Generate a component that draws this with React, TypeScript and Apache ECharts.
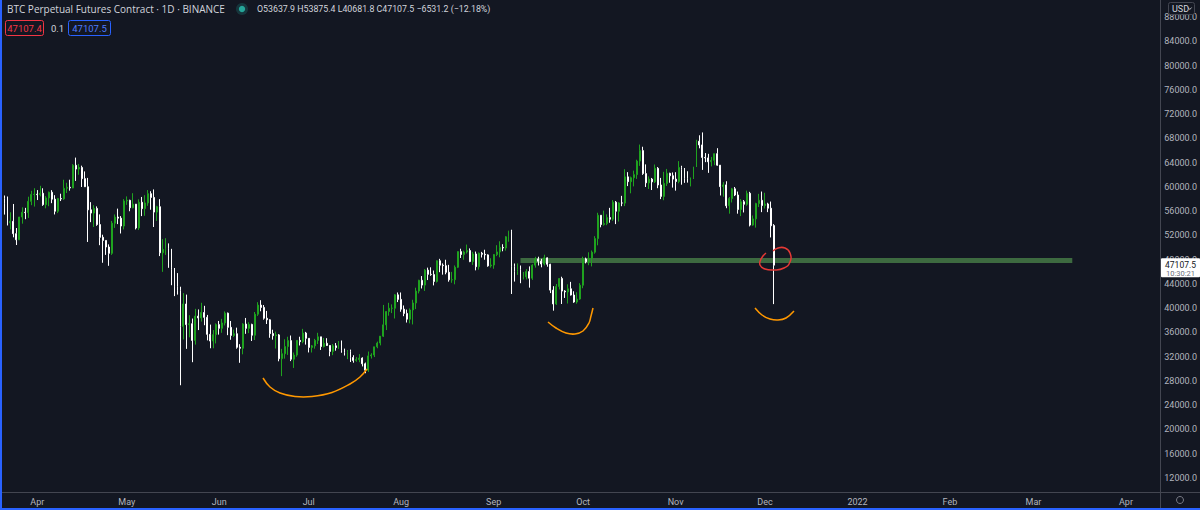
import React, { useEffect, useRef } from 'react';
import * as echarts from 'echarts';

// ---------- data ----------
const START_DATE = '2021-03-20';
const TOTAL_DAYS = 388; // category slots on the time axis (through Apr 2022)
const MONTH_NAMES = ['Jan', 'Feb', 'Mar', 'Apr', 'May', 'Jun', 'Jul', 'Aug', 'Sep', 'Oct', 'Nov', 'Dec'];

// rows: [open, high, low, close]
const mar2021 = [
  [57900, 59900, 57800, 58100], [58100, 58600, 55450, 57350], [57350, 58430, 53650, 54080], [54080, 55830, 53000, 54340],
  [54340, 57200, 51700, 52300], [52300, 53230, 50430, 51300], [51300, 55070, 51230, 55050], [55050, 56640, 53950, 55820],
  [55820, 56560, 54690, 55780], [55780, 58400, 54900, 57630], [57630, 59370, 57000, 58770], [58770, 59800, 56770, 58800],
];
const apr2021 = [
  [58800, 59490, 57850, 58740], [58740, 60200, 58450, 58970], [58970, 59790, 56890, 57090], [57090, 58490, 56480, 58200],
  [58200, 59240, 56830, 59130], [59130, 59480, 57330, 57990], [57990, 58650, 55470, 56000], [56000, 58200, 55700, 58090],
  [58090, 58890, 57680, 58040], [58040, 61200, 57880, 59780], [59780, 60700, 59000, 59960], [59960, 61200, 59400, 59840],
  [59840, 63770, 59800, 63580], [63580, 64850, 61000, 62960], [62960, 63800, 62020, 63220], [63220, 63520, 60000, 61380],
  [61380, 62570, 60000, 60040], [60040, 61500, 50930, 56230], [56230, 57500, 54200, 55700], [55700, 57000, 53400, 56470],
  [56470, 56800, 53600, 53800], [53800, 55480, 50400, 51700], [51700, 52130, 47500, 51190], [51190, 51200, 48800, 50100],
  [50100, 50540, 47000, 49060], [49060, 54400, 48800, 54030], [54030, 55470, 53250, 55040], [55040, 56430, 53880, 54860],
  [54860, 55200, 52330, 53560], [53560, 58000, 53000, 57700],
];
const may2021 = [
  [57700, 58450, 57050, 57800], [57800, 57900, 56000, 56580], [56580, 58980, 56480, 57170], [57170, 57200, 53000, 53240],
  [53240, 57970, 52900, 57480], [57480, 58360, 55200, 56430], [56430, 58650, 55250, 57380], [57380, 59500, 56900, 58900],
  [58900, 59300, 56250, 58280], [58280, 59600, 53400, 55860], [55860, 56900, 54400, 56750], [56750, 58000, 48600, 49150],
  [49150, 51400, 46000, 49700], [49700, 51550, 48800, 49880], [49880, 50700, 46650, 46760], [46760, 49800, 43800, 46450],
  [46450, 46640, 42000, 43540], [43540, 45800, 42250, 42900], [42900, 43550, 27300, 37000], [37000, 42500, 34850, 40700],
  [40700, 42250, 33300, 37300], [37300, 38850, 35200, 37450], [37450, 38300, 31100, 34700], [34700, 39900, 34000, 38700],
  [38700, 39800, 36400, 38400], [38400, 40900, 37800, 39300], [39300, 40400, 37200, 38500], [38500, 38900, 34700, 35700],
  [35700, 37300, 33400, 34600], [34600, 36400, 33400, 35650], [35650, 37500, 34200, 37300],
];
const jun2021 = [
  [37300, 37900, 35650, 36690], [36690, 38250, 35950, 37570], [37570, 39480, 37170, 39190], [39190, 39290, 35560, 36850],
  [36850, 37900, 34800, 35520], [35520, 36480, 35250, 35800], [35800, 36800, 33330, 33560], [33560, 34070, 31000, 33400],
  [33400, 37530, 32400, 37390], [37390, 38400, 35780, 36680], [36680, 37700, 35900, 37330], [37330, 37450, 34600, 35550],
  [35550, 39380, 34760, 39020], [39020, 41000, 38730, 40520], [40520, 41330, 39500, 40140], [40140, 40530, 38120, 38350],
  [38350, 39560, 37400, 38090], [38090, 38200, 35130, 35820], [35820, 36460, 34820, 35480], [35480, 36140, 33350, 35600],
  [35600, 35750, 31250, 31680], [31680, 33300, 28800, 32500], [32500, 34880, 31680, 33680], [33680, 35300, 32300, 34660],
  [34660, 35500, 31280, 31590], [31590, 32700, 30150, 32280], [32280, 34750, 32000, 34700], [34700, 35300, 33860, 34490],
  [34490, 36600, 34230, 35910], [35910, 36100, 34000, 35040],
];
const jul2021 = [
  [35040, 35040, 32710, 33540], [33540, 33940, 32700, 33800], [33800, 34950, 33330, 34700], [34700, 35950, 34100, 35290],
  [35290, 35290, 33120, 33690], [33690, 35100, 33530, 34220], [34220, 35060, 33770, 33860], [33860, 33900, 32080, 32880],
  [32880, 34100, 32260, 33800], [33800, 34260, 33000, 33500], [33500, 34590, 33300, 34260], [34260, 34680, 32660, 33090],
  [33090, 33340, 32200, 32730], [32730, 33100, 31600, 32820], [32820, 33180, 31130, 31880], [31880, 32250, 31020, 31390],
  [31390, 31950, 31170, 31530], [31530, 32430, 31100, 31780], [31780, 31900, 30400, 30840], [30840, 31040, 29280, 29790],
  [29790, 32860, 29500, 32140], [32140, 32580, 31700, 32290], [32290, 33650, 31950, 33640], [33640, 34500, 33400, 34260],
  [34260, 35400, 33880, 35400], [35400, 40550, 35250, 37260], [37260, 39540, 36400, 39460], [39460, 40900, 38770, 40000],
  [40000, 40640, 39200, 40000], [40000, 42320, 38310, 42210], [42210, 42600, 41020, 41460],
];
const aug2021 = [
  [41460, 42600, 39420, 39850], [39850, 40460, 38690, 39150], [39150, 39780, 37640, 38200], [38200, 39970, 37510, 39720],
  [39720, 41400, 37330, 40870], [40870, 43390, 39860, 42830], [42830, 44700, 42450, 44610], [44610, 45310, 43260, 43820],
  [43820, 46460, 42850, 46290], [46290, 46700, 44650, 45590], [45590, 46750, 45350, 45550], [45550, 46220, 43770, 44420],
  [44420, 47900, 44240, 47830], [47830, 48150, 45950, 47100], [47100, 47400, 45540, 47020], [47020, 48000, 45600, 45930],
  [45930, 47160, 44380, 44690], [44690, 46000, 44200, 44710], [44710, 47060, 43950, 46760], [46760, 49380, 46630, 49340],
  [49340, 49820, 48290, 48870], [48870, 49500, 48000, 49280], [49280, 50500, 49030, 49520], [49520, 49870, 47600, 47700],
  [47700, 49300, 47150, 48950], [48950, 49350, 46250, 46850], [46850, 49200, 46370, 49070], [49070, 49300, 48370, 48900],
  [48900, 49650, 48000, 48800], [48800, 48900, 46850, 46990], [46990, 48250, 46700, 47130],
];
const sep2021 = [
  [47130, 48950, 46510, 48850], [48850, 50400, 48600, 49290], [49290, 51050, 48400, 50030], [50030, 50560, 49400, 49940],
  [49940, 51900, 49500, 51790], [51790, 52800, 50970, 52700], [52700, 52950, 42350, 46860], [46860, 47380, 44400, 46080],
  [46080, 47400, 45500, 46380], [46380, 47050, 44130, 44850], [44850, 45990, 44750, 45170], [45170, 46460, 44750, 46050],
  [46050, 46900, 43400, 44960], [44960, 47250, 44680, 47110], [47110, 48480, 46700, 48140], [48140, 48500, 47050, 47760],
  [47760, 48150, 46750, 47300], [47300, 48830, 47050, 48310], [48310, 48370, 46850, 47260], [47260, 47330, 42500, 42990],
  [42990, 43640, 39600, 40710], [40710, 44000, 40550, 43570], [43570, 44980, 43100, 44900], [44900, 45200, 40700, 42830],
  [42830, 42980, 41700, 42700], [42700, 43950, 40780, 43210], [43210, 44350, 42100, 42180], [42180, 42800, 40900, 41030],
  [41030, 42640, 40750, 41520], [41520, 44130, 41400, 43800],
];
const oct2021 = [
  [43800, 48500, 43300, 48140], [48140, 48350, 47400, 47660], [47660, 49230, 47100, 48230], [48230, 49530, 46900, 49250],
  [49250, 51890, 49000, 51490], [51490, 55750, 50380, 55340], [55340, 55340, 53350, 53800], [53800, 56100, 53620, 53970],
  [53970, 55490, 53700, 54960], [54960, 56560, 54100, 54690], [54690, 57840, 54420, 57490], [57490, 57680, 53880, 56000],
  [56000, 57500, 54300, 57370], [57370, 58540, 56830, 57350], [57350, 62930, 56850, 61670], [61670, 62450, 60150, 60880],
  [60880, 61720, 58960, 61530], [61530, 62700, 60100, 62040], [62040, 64500, 61330, 64280], [64280, 67000, 63480, 66000],
  [66000, 66640, 62000, 62210], [62210, 63730, 60000, 60690], [60690, 61750, 59670, 61300], [61300, 61490, 59500, 60850],
  [60850, 63710, 60660, 63080], [63080, 63290, 59800, 60330], [60330, 61500, 58000, 58450], [58450, 62500, 57820, 60590],
  [60590, 62980, 60170, 62250], [62250, 62360, 60700, 61860], [61860, 62400, 59900, 61300],
];
const nov2021 = [
  [61300, 62440, 59400, 60910], [60910, 64270, 60620, 63220], [63220, 63500, 60380, 62930], [62930, 63130, 60680, 61400],
  [61400, 62600, 60720, 61000], [61000, 61560, 60100, 61520], [61520, 63350, 61320, 63300], [63300, 67790, 63300, 67550],
  [67550, 68530, 66380, 66940], [66940, 69000, 62820, 64880], [64880, 65600, 64100, 64800], [64800, 65470, 62330, 64160],
  [64160, 64960, 63400, 64400], [64400, 65520, 63600, 65500], [65500, 66400, 63500, 63600], [63600, 63620, 58600, 60060],
  [60060, 60800, 58400, 60350], [60350, 60950, 56500, 56900], [56900, 58350, 55600, 58100], [58100, 59850, 57450, 59700],
  [59700, 60000, 58500, 58680], [58680, 59250, 55600, 56280], [56280, 58000, 55200, 57570], [57570, 57850, 55800, 57150],
  [57150, 59400, 56900, 58960], [58960, 59200, 53500, 53720], [53720, 55300, 53600, 54740], [54740, 57400, 53300, 57270],
  [57270, 58870, 56700, 57800], [57800, 59250, 55850, 56950],
];
const dec2021 = [
  [56950, 59050, 56450, 57200], [57200, 57400, 55850, 56500], [56500, 57600, 51680, 53600], [53637.9, 53875.4, 40681.8, 47107.5],
];
const candles = [...mar2021, ...apr2021, ...may2021, ...jun2021, ...jul2021, ...aug2021, ...sep2021, ...oct2021, ...nov2021, ...dec2021];

const Y_TICKS = [12000, 16000, 20000, 24000, 28000, 32000, 36000, 40000, 44000, 48000, 52000, 56000, 60000, 64000, 68000, 72000, 76000, 80000, 84000, 88000];
const Y_MIN = 9690;
const Y_MAX = 90845;

const BAND = { from: '2021-09-10', to: '2022-03-14', low: 47464, high: 48289 };

const TITLE = 'BTC Perpetual Futures Contract · 1D · BINANCE';
const OHLC_TEXT = 'O53637.9 H53875.4 L40681.8 C47107.5 −6531.2 (−12.18%)';
const BID = '47107.4';
const SPREAD = '0.1';
const ASK = '47107.5';
const LAST_PRICE = 47107.5;
const COUNTDOWN = '10:30:21';

// hand-drawn annotations (screen pixels)
const ORANGE_ARCS = [
  [[263, 378], [270, 387], [280, 393], [295, 396.5], [312, 396.5], [332, 392.5], [350, 384], [360, 377], [367, 369]],
  [[548, 322], [556, 328], [566, 333], [575, 334], [583, 331], [589, 323], [591, 316], [593, 308]],
  [[755, 308], [762, 315], [770, 319], [778, 320], [786, 318], [794, 311]],
];
const RED_LOOP = [[766, 253], [761, 259], [760, 265], [765, 269], [774, 270], [784, 268], [790, 262], [790, 253], [785, 248], [778, 248], [773, 251]];

// ---------- helpers ----------
function buildDates(): string[] {
  const out: string[] = [];
  const d0 = new Date(START_DATE + 'T00:00:00Z');
  for (let i = 0; i < TOTAL_DAYS; i++) {
    const d = new Date(d0.getTime() + i * 86400000);
    const y = d.getUTCFullYear();
    const m = String(d.getUTCMonth() + 1).padStart(2, '0');
    const day = String(d.getUTCDate()).padStart(2, '0');
    out.push(`${y}-${m}-${day}`);
  }
  return out;
}

const FONT = 'Roboto, "Noto Sans", sans-serif';
const TITLE_FONT = '"Open Sans", Roboto, sans-serif';
const BG = '#131722';
const UP = '#1fa31f';
const DOWN = '#ffffff';
const TXT = '#d1d4dc';
const AXIS_TXT = '#b2b5be';
const SEP = '#434651';

export default function App() {
  const ref = useRef<HTMLDivElement>(null);

  useEffect(() => {
    if (!ref.current) return;
    const chart = echarts.init(ref.current, null, { renderer: 'svg' });
    const dates = buildDates();

    const option: any = {
      animation: false,
      backgroundColor: BG,
      grid: { left: 0, right: 40, top: 0, bottom: 18 },
      xAxis: {
        type: 'category',
        data: dates,
        boundaryGap: true,
        axisLine: { show: false },
        axisTick: { show: false },
        splitLine: { show: false },
        axisLabel: {
          interval: (_i: number, v: string) => v.endsWith('-01'),
          formatter: (v: string) => {
            const m = Number(v.slice(5, 7));
            return m === 1 ? v.slice(0, 4) : MONTH_NAMES[m - 1];
          },
          color: AXIS_TXT,
          fontSize: 9,
          fontFamily: FONT,
          margin: 5,
        },
      },
      yAxis: {
        type: 'value',
        position: 'right',
        min: Y_MIN,
        max: Y_MAX,
        splitLine: { show: false },
        axisLine: { show: false },
        axisTick: { show: false },
        axisLabel: {
          customValues: Y_TICKS,
          formatter: (v: number) => v.toFixed(1),
          color: AXIS_TXT,
          fontSize: 9,
          fontFamily: FONT,
          margin: 7,
        },
      },
      series: [
        {
          type: 'candlestick',
          data: candles.map(([o, h, l, c]) => [o, c, l, h]),
          barWidth: 1.4,
          itemStyle: { color: UP, color0: DOWN, borderColor: UP, borderColor0: DOWN, borderWidth: 1 },
          markArea: {
            silent: true,
            itemStyle: { color: 'rgba(78,138,76,0.72)' },
            data: [[{ coord: [BAND.from, BAND.high] }, { coord: [BAND.to, BAND.low] }]],
          },
        },
      ],
    };
    chart.setOption(option);

    const yLast = chart.convertToPixel({ yAxisIndex: 0 } as any, LAST_PRICE) as number;

    const graphics: any[] = [
      // frame separators
      { type: 'line', shape: { x1: 0, y1: 492.5, x2: 1200, y2: 492.5 }, style: { stroke: SEP, lineWidth: 1 }, z: 50 },
      { type: 'line', shape: { x1: 1160.5, y1: 0, x2: 1160.5, y2: 510 }, style: { stroke: SEP, lineWidth: 1 }, z: 50 },
      { type: 'rect', shape: { x: 0, y: 0, width: 2, height: 510 }, style: { fill: '#2962ff' }, z: 60 },
      { type: 'rect', shape: { x: 0, y: 508, width: 1200, height: 2 }, style: { fill: '#2962ff' }, z: 60 },
      // USD selector
      { type: 'rect', shape: { x: 1168.5, y: 2.5, width: 26, height: 12, r: 2 }, style: { fill: BG, stroke: SEP, lineWidth: 1 }, z: 55 },
      { type: 'text', x: 1172, y: 9, style: { text: 'USD', fill: TXT, fontSize: 9, fontFamily: FONT, verticalAlign: 'middle' }, z: 56 },
      { type: 'polyline', shape: { points: [[1188, 7.5], [1189.8, 9.5], [1191.6, 7.5]] }, style: { stroke: TXT, lineWidth: 0.8, fill: 'none' }, z: 56 },
      // settings gear
      { type: 'circle', shape: { cx: 1180, cy: 500, r: 3.5 }, style: { fill: 'none', stroke: '#787b86', lineWidth: 1 }, z: 55 },
      // header
      { type: 'text', x: 7, y: 9, style: { text: TITLE, fill: TXT, fontSize: 10, fontFamily: TITLE_FONT, verticalAlign: 'middle' }, z: 70 },
      { type: 'circle', shape: { cx: 242, cy: 9, r: 6 }, style: { fill: 'rgba(38,166,154,0.22)' }, z: 70 },
      { type: 'circle', shape: { cx: 242, cy: 9, r: 3.2 }, style: { fill: '#26a69a' }, z: 71 },
      { type: 'text', x: 257, y: 9, style: { text: OHLC_TEXT, fill: TXT, fontSize: 8.8, fontFamily: FONT, verticalAlign: 'middle' }, z: 70 },
      { type: 'rect', shape: { x: 5.5, y: 20.5, width: 38, height: 15, r: 2 }, style: { fill: 'none', stroke: '#f23645', lineWidth: 1 }, z: 70 },
      { type: 'text', x: 24.5, y: 28, style: { text: BID, fill: '#f23645', fontSize: 9.5, fontFamily: FONT, align: 'center', verticalAlign: 'middle' }, z: 70 },
      { type: 'text', x: 51, y: 28, style: { text: SPREAD, fill: TXT, fontSize: 9.5, fontFamily: FONT, verticalAlign: 'middle' }, z: 70 },
      { type: 'rect', shape: { x: 68.5, y: 20.5, width: 42, height: 15, r: 2 }, style: { fill: 'none', stroke: '#2962ff', lineWidth: 1 }, z: 70 },
      { type: 'text', x: 89.5, y: 28, style: { text: ASK, fill: '#4d7dff', fontSize: 9.5, fontFamily: FONT, align: 'center', verticalAlign: 'middle' }, z: 70 },
      // last price label
      { type: 'rect', shape: { x: 1161, y: yLast - 7, width: 39, height: 19, r: 1 }, style: { fill: '#ffffff' }, z: 80 },
      { type: 'text', x: 1180.5, y: yLast, style: { text: String(LAST_PRICE), fill: BG, fontSize: 8.5, fontFamily: FONT, align: 'center', verticalAlign: 'middle' }, z: 81 },
      { type: 'text', x: 1180.5, y: yLast + 8.5, style: { text: COUNTDOWN, fill: '#6a6d78', fontSize: 7.5, fontFamily: FONT, align: 'center', verticalAlign: 'middle' }, z: 81 },
    ];
    ORANGE_ARCS.forEach((pts) => {
      graphics.push({ type: 'polyline', shape: { points: pts, smooth: 0.4 }, style: { stroke: '#ff9800', lineWidth: 1.5, fill: 'none' }, z: 40 });
    });
    graphics.push({ type: 'polyline', shape: { points: RED_LOOP, smooth: 0.5 }, style: { stroke: '#e53935', lineWidth: 1.5, fill: 'none' }, z: 40 });

    chart.setOption({ graphic: { elements: graphics } });

    return () => chart.dispose();
  }, []);

  return <div ref={ref} style={{ position: 'absolute', left: 0, top: 0, width: 1200, height: 510 }} />;
}
